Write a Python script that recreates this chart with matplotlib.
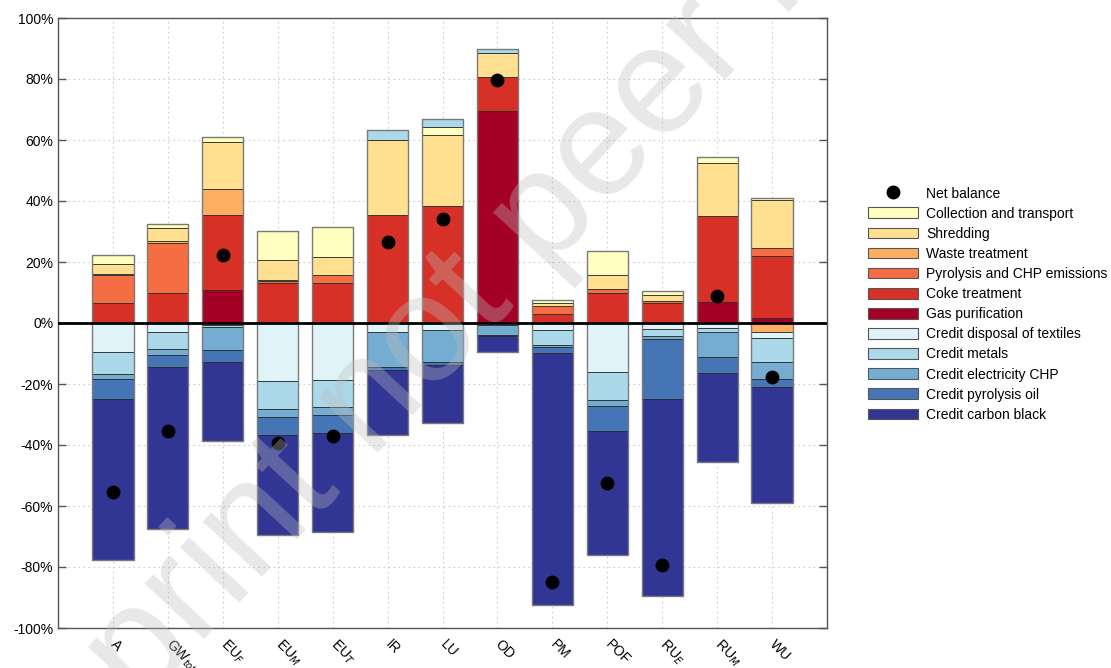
import matplotlib
matplotlib.use("Agg")
import matplotlib.pyplot as plt
import numpy as np
from matplotlib.patches import Patch
from matplotlib.lines import Line2D

plt.rcParams["font.family"] = ["Liberation Sans", "DejaVu Sans"]

categories = ["A", "GW$_{tot}$", "EU$_F$", "EU$_M$", "EU$_T$", "IR", "LU", "OD",
              "PM", "POF", "RU$_E$", "RU$_M$", "WU"]

# values in % (negative = credits), in stacking order
gas_purification = [0, 0, 10.8, 0, 0, 0, 0, 69.5, 0, 0, 0, 7.0, 1.5]
coke_treatment = [6.7, 9.7, 24.6, 13.2, 13.0, 35.4, 38.4, 11.3, 3.0, 9.7, 6.5, 28.1, 20.6]
pyrolysis_chp = [9.0, 16.4, 0, 0.6, 2.7, 0, 0, 0, 2.6, 1.4, 0.7, 0, 2.4]
waste_treatment = [0.3, 0.8, 8.5, 0.3, 0, 0, 0, 0, 0, 0, 0, 0, -3.1]
shredding = [3.3, 4.1, 15.6, 6.6, 5.9, 24.6, 23.1, 7.8, 1.1, 4.6, 2.0, 17.5, 15.8]
collection = [3.1, 1.4, 1.4, 9.5, 9.9, 0, 2.9, 0, 0.8, 8.0, 1.3, 1.7, 0.6]
credit_textiles = [-9.6, -3.0, -0.5, -19.0, -18.7, -3.0, -2.2, -0.6, -2.2, -16.2, -2.1, -1.7, -1.9]
credit_metals = [-7.1, -5.5, -0.9, -9.1, -8.7, 3.3, 2.5, 1.1, -5.0, -9.0, -2.2, -1.4, -7.7]
credit_chp = [-1.8, -2.0, -7.5, -2.8, -2.9, -11.3, -10.7, -3.4, -0.7, -2.0, -1.1, -7.9, -5.7]
credit_oil = [-6.4, -3.8, -3.8, -5.9, -5.9, -1.1, -0.9, -0.3, -2.0, -8.2, -19.5, -5.5, -2.5]
credit_carbon_black = [-52.8, -53.4, -26.0, -32.8, -32.3, -21.3, -19.1, -5.2, -82.5, -40.8, -64.6, -29.1, -38.0]
net_balance = [-55.5, -35.3, 22.3, -39.4, -36.9, 26.7, 34.0, 79.7, -84.8, -52.4, -79.3, 9.0, -17.8]

series = [
    ("Gas purification", gas_purification, "#a50026"),
    ("Coke treatment", coke_treatment, "#d73027"),
    ("Pyrolysis and CHP emissions", pyrolysis_chp, "#f46d43"),
    ("Waste treatment", waste_treatment, "#fdae61"),
    ("Shredding", shredding, "#fee090"),
    ("Collection and transport", collection, "#ffffbf"),
    ("Credit disposal of textiles", credit_textiles, "#e0f3f8"),
    ("Credit metals", credit_metals, "#abd9e9"),
    ("Credit electricity CHP", credit_chp, "#74add1"),
    ("Credit pyrolysis oil", credit_oil, "#4575b4"),
    ("Credit carbon black", credit_carbon_black, "#313695"),
]

fig = plt.figure(figsize=(11.11, 6.68), dpi=100)
ax = fig.add_axes([58 / 1111, 40 / 668, 769 / 1111, 610 / 668])

x = np.arange(len(categories))
pos_base = np.zeros(len(categories))
neg_base = np.zeros(len(categories))
width = 0.75
for name, vals, col in series:
    v = np.array(vals, dtype=float)
    bottoms = np.where(v >= 0, pos_base, neg_base)
    ax.bar(x, v, width, bottom=bottoms, color=col, edgecolor="#2b2b2b",
           linewidth=0.6, zorder=3)
    pos_base = pos_base + np.where(v >= 0, v, 0)
    neg_base = neg_base + np.where(v < 0, v, 0)

# outer bar outlines (grey)
for i in range(len(categories)):
    ax.bar(x[i], pos_base[i] - neg_base[i], width, bottom=neg_base[i],
           fill=False, edgecolor="#7a7a7a", linewidth=1.0, zorder=4)

ax.scatter(x, net_balance, s=80, color="black", zorder=6)
ax.axhline(0, color="black", linewidth=2, zorder=5)

ax.set_xlim(-1, 13)
ax.set_ylim(-100, 100)
yt = np.arange(-100, 101, 20)
ax.set_yticks(yt)
ax.set_yticklabels([f"{t}%" for t in yt], fontsize=10)
ax.set_xticks(x)
ax.set_xticklabels(categories, fontsize=10, rotation=-45, ha="left", va="center",
                   rotation_mode="anchor")
ax.tick_params(axis="x", length=0, pad=10)
ax.tick_params(axis="y", direction="in", length=6, right=True, colors="#555555",
               labelcolor="black", width=1)
ax.grid(True, color="#cccccc", linestyle=(0, (1.5, 3)), linewidth=0.8, zorder=0)
ax.set_axisbelow(True)
for s in ax.spines.values():
    s.set_color("#555555")
    s.set_linewidth(1)

handles = [Line2D([0], [0], marker="o", color="none", markerfacecolor="black",
                  markeredgecolor="black", markersize=9, label="Net balance")]
legend_order = ["Collection and transport", "Shredding", "Waste treatment",
                "Pyrolysis and CHP emissions", "Coke treatment", "Gas purification",
                "Credit disposal of textiles", "Credit metals", "Credit electricity CHP",
                "Credit pyrolysis oil", "Credit carbon black"]
cmap = {n: c for n, _, c in series}
for n in legend_order:
    handles.append(Patch(facecolor=cmap[n], edgecolor="#555555", linewidth=0.8, label=n))
fig.legend(handles=handles, loc="upper left", bbox_to_anchor=(855 / 1111, 1 - 174 / 668),
           frameon=False, fontsize=10, handlelength=3.6, handleheight=0.8,
           labelspacing=0.44, handletextpad=0.6)

fig.text(560 / 1111, 1 - 200 / 668, "Preprint not peer reviewed", fontsize=110,
         rotation=47, ha="center", va="center", color="#bdbdbd", alpha=0.35,
         zorder=10, rotation_mode="anchor")

fig.savefig("out.png", dpi=100)
